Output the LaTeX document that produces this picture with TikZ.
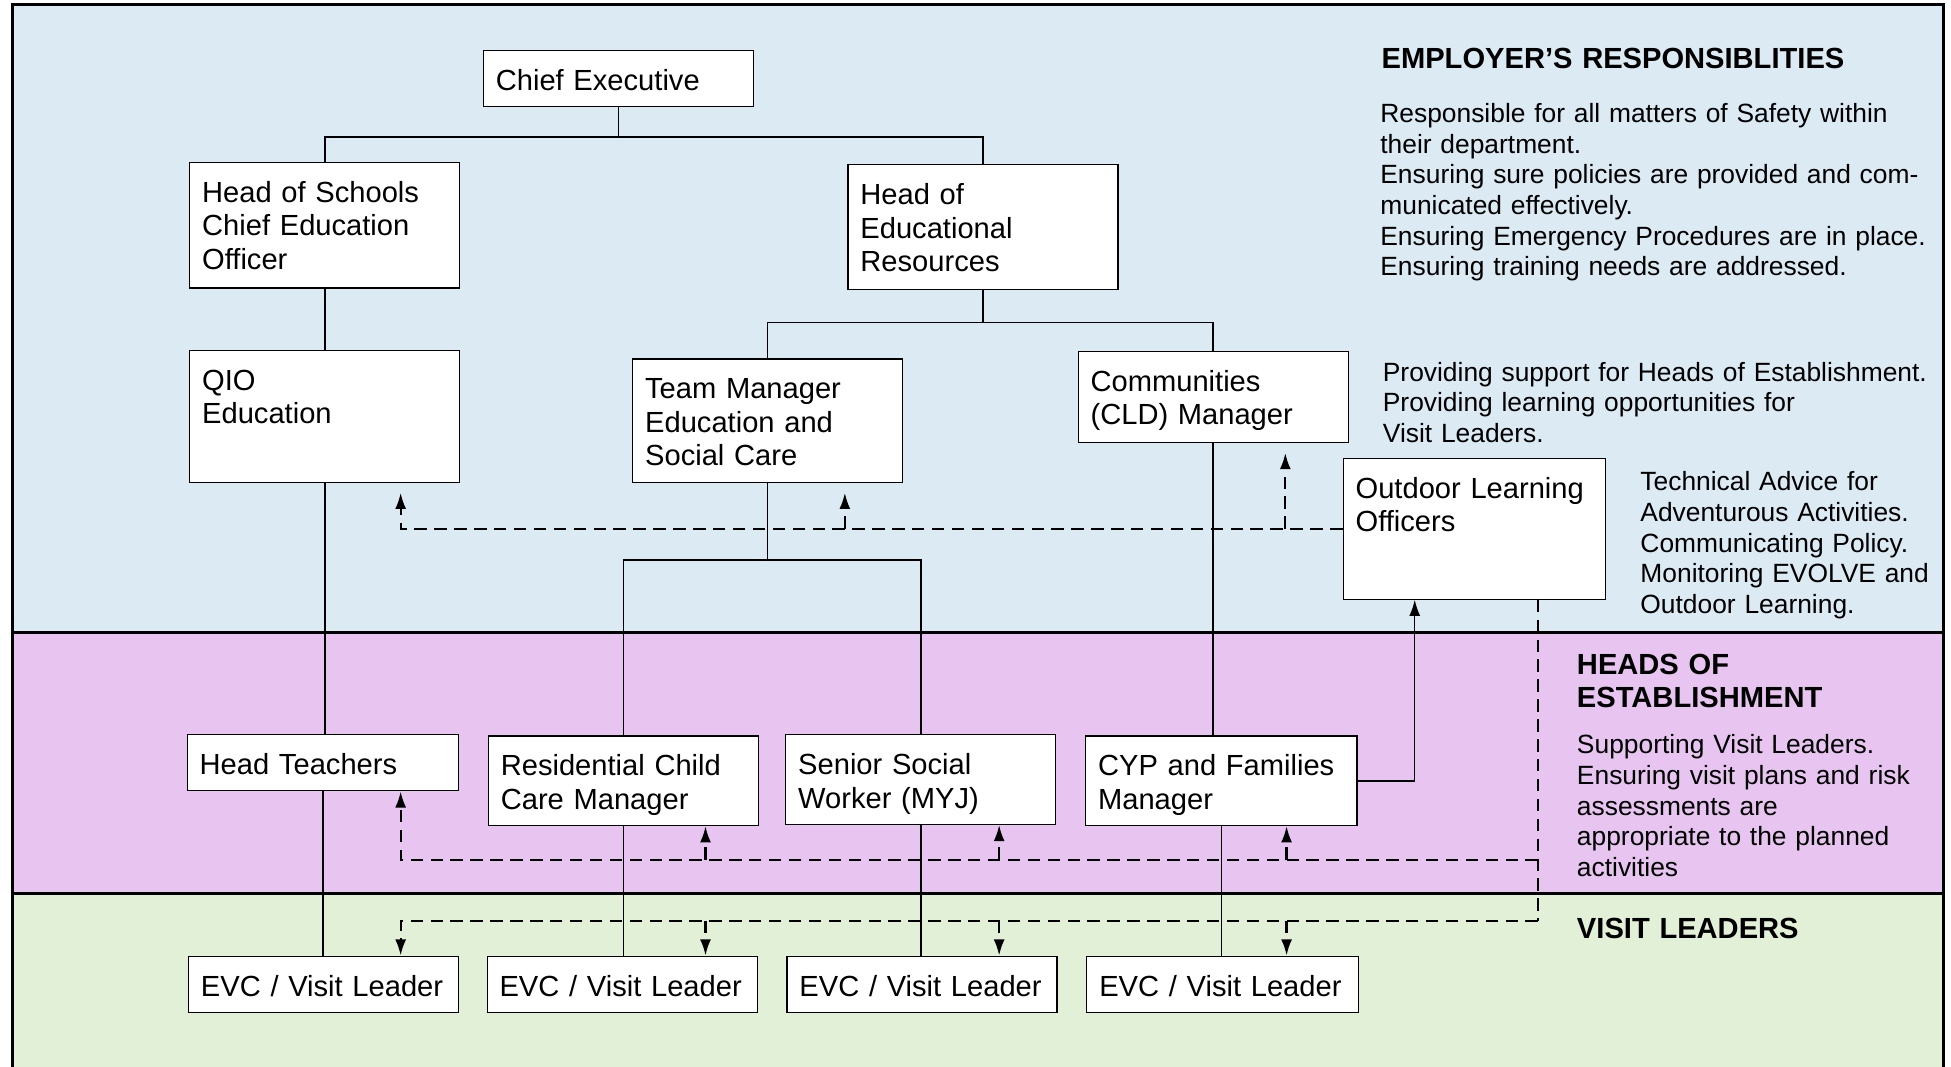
\documentclass[tikz,border=0pt]{standalone}
\usepackage{fontspec}
\setmainfont{Liberation Sans}
\usetikzlibrary{arrows.meta}

\definecolor{empblue}{RGB}{219,234,243}
\definecolor{headpink}{RGB}{231,197,240}
\definecolor{leadgreen}{RGB}{226,240,215}

\newcommand{\boxfont}{\fontsize{11.7}{13.5}\selectfont}
\newcommand{\notefont}{\fontsize{10.6}{12.3}\selectfont}
\newcommand{\headfont}{\fontsize{11.7}{13.5}\selectfont\bfseries}

\tikzset{
  orgbox/.style={draw, fill=white, line width=0.5pt, anchor=north west, align=left,
    inner xsep=5pt, inner ysep=0pt, text width=98.5pt, text height=16pt,
    text depth=6.5pt, font=\boxfont},
  notetext/.style={anchor=base west, align=left, inner sep=0pt, text width=235pt, font=\notefont},
  bandtitle/.style={anchor=base west, align=left, inner sep=0pt, text width=235pt, font=\headfont},
  link/.style={line width=0.6pt},
  dashlink/.style={line width=0.9pt, dash pattern=on 5pt off 3pt},
  bandline/.style={line width=1.2pt},
  >={Latex[length=6.5pt,width=4.4pt]}
}

\begin{document}
\begin{tikzpicture}[x=0.5pt,y=-0.5pt]
\useasboundingbox (0,0) rectangle (1568,857.5);

% bands
\fill[empblue] (10,4) rectangle (1562,508);
\fill[headpink] (10,508) rectangle (1562,718);
\fill[leadgreen] (10,718) rectangle (1562,857.5);
\draw[bandline] (10,857.5) -- (10,4) -- (1562,4) -- (1562,857.5);
\draw[bandline] (10,508) -- (1562,508);
\draw[bandline] (10,718) -- (1562,718);

% boxes
\node[orgbox] (ce) at (388,40) {Chief Executive};
\node[orgbox, text depth=34.5pt] (hs) at (152,130) {Head of Schools\\Chief Education\\Officer};
\node[orgbox, text depth=34pt] (hr) at (681,132) {Head of\\Educational\\Resources};
\node[orgbox, text depth=37pt] (qio) at (152,281) {QIO\\Education};
\node[orgbox, text depth=33.5pt] (tm) at (508,288) {Team Manager\\Education and\\Social Care};
\node[orgbox, text depth=20.5pt] (cld) at (866,282) {Communities\\(CLD) Manager};
\node[orgbox, text width=95.5pt, text depth=40.5pt] (ol) at (1079,368) {Outdoor Learning\\Officers};
\node[orgbox, text width=99pt] (ht) at (150,590) {Head Teachers};
\node[orgbox, text depth=20pt] (rc) at (392,591) {Residential Child\\Care Manager};
\node[orgbox, text depth=20pt] (ss) at (631,590) {Senior Social\\Worker (MYJ)};
\node[orgbox, text width=99pt, text depth=20pt] (cyp) at (872,591) {CYP and Families\\Manager};
\node[orgbox] (evcA) at (151,768) {EVC / Visit Leader};
\node[orgbox] (evcB) at (391,768) {EVC / Visit Leader};
\node[orgbox] (evcC) at (632,768) {EVC / Visit Leader};
\node[orgbox, text width=99pt] (evcD) at (873,768) {EVC / Visit Leader};

% notes
\node[bandtitle] (emptitle) at (1110,55) {EMPLOYER’S RESPONSIBLITIES};
\node[notetext] (empnote) at (1109,98.5) {Responsible for all matters of Safety within\\their department.\\Ensuring sure policies are provided and com-\\municated effectively.\\Ensuring Emergency Procedures are in place.\\Ensuring training needs are addressed.};
\node[notetext] (supnote) at (1111,306.5) {Providing support for Heads of Establishment.\\Providing learning opportunities for\\Visit Leaders.};
\node[notetext, text width=120pt] (technote) at (1318,394.5) {Technical Advice for\\Adventurous Activities.\\Communicating Policy.\\Monitoring EVOLVE and\\Outdoor Learning.};
\node[bandtitle] (headtitle) at (1267,542) {HEADS OF\\ESTABLISHMENT};
\node[notetext, text width=140pt, font=\fontsize{10.6}{12.4}\selectfont] (headnote) at (1267,605.5) {Supporting Visit Leaders.\\Ensuring visit plans and risk\\assessments are\\appropriate to the planned\\activities};
\node[bandtitle] (leadtitle) at (1267,754) {VISIT LEADERS};

% line management
\coordinate (topbar) at (0,110);
\coordinate (midbar) at (0,259);
\coordinate (lowbar) at (0,450);
\coordinate (olin) at (1137,0);
\draw[link] (ce.south) -- (ce.south |- topbar);
\draw[link] (hs.north) |- (hr.north |- topbar) -- (hr.north);
\draw[link] (hs.south) -- (qio.north);
\draw[link] (qio.south) -- (qio.south |- ht.north);
\draw[link] (ht.south) -- (ht.south |- evcA.north);
\draw[link] (hr.south) -- (hr.south |- midbar);
\draw[link] (tm.north) |- (cld.north |- midbar) -- (cld.north);
\draw[link] (tm.south) -- (tm.south |- lowbar);
\draw[link] (rc.north) |- (ss.north |- lowbar) -- (ss.north);
\draw[link] (rc.south) -- (rc.south |- evcB.north);
\draw[link] (ss.south) -- (ss.south |- evcC.north);
\draw[link] (cld.south) -- (cld.south |- cyp.north);
\draw[link] (cyp.south) -- (cyp.south |- evcD.north);
\draw[link, ->] (cyp.east) -| (olin |- ol.south);

% advice lines
\coordinate (d1) at (322,0);
\coordinate (u2) at (679,0);
\coordinate (u3) at (1033,0);
\coordinate (d2) at (567,0);
\coordinate (d3) at (803,0);
\coordinate (d4) at (1034,0);
\coordinate (olout) at (1236,0);
\coordinate (hebus) at (0,691);
\coordinate (evbus) at (0,740);
\draw[dashlink, ->, shorten >=4pt] (ol.west) -| (d1 |- qio.south);
\draw[dashlink, ->, shorten >=4pt] (u2 |- ol.west) -- (u2 |- tm.south);
\draw[dashlink, ->, shorten >=4pt] (u3 |- ol.west) -- (u3 |- cld.south);
\draw[dashlink] (olout |- ol.south) -- (olout |- evbus);
\draw[dashlink, ->] (olout |- hebus) -| (d1 |- ht.south);
\draw[dashlink, ->] (d2 |- hebus) -- (d2 |- rc.south);
\draw[dashlink, ->] (d3 |- hebus) -- (d3 |- ss.south);
\draw[dashlink, ->] (d4 |- hebus) -- (d4 |- cyp.south);
\draw[dashlink, ->] (olout |- evbus) -| (d1 |- evcA.north);
\draw[dashlink, ->] (d2 |- evbus) -- (d2 |- evcB.north);
\draw[dashlink, ->] (d3 |- evbus) -- (d3 |- evcC.north);
\draw[dashlink, ->] (d4 |- evbus) -- (d4 |- evcD.north);
\end{tikzpicture}
\end{document}
